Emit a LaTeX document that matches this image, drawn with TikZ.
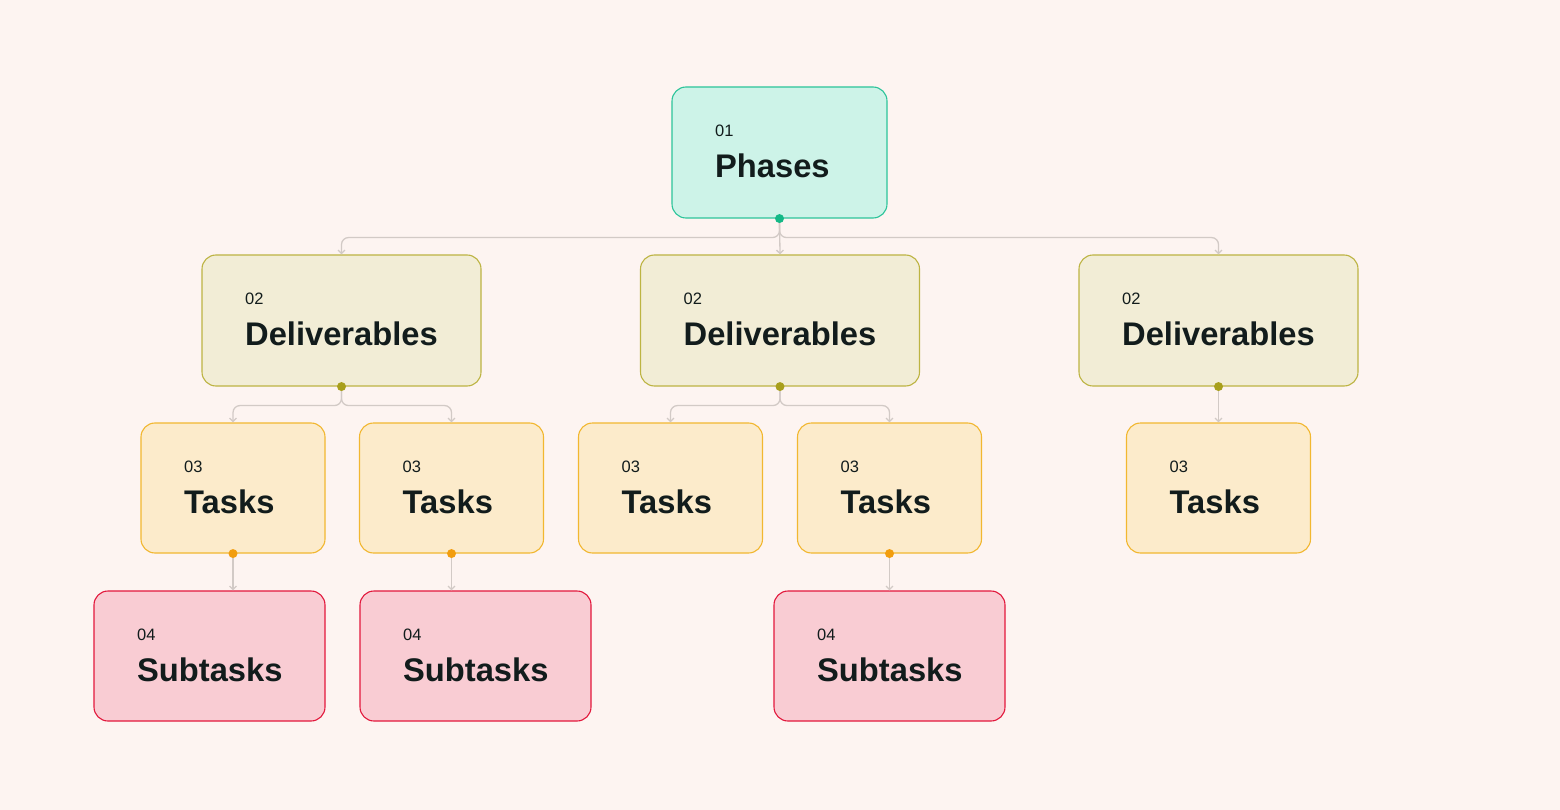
\documentclass[tikz,border=0pt]{standalone}
\usepackage{fontspec}
\setmainfont{Liberation Sans}
\usetikzlibrary{arrows.meta,positioning}
\definecolor{bg}{HTML}{FDF4F1}
\definecolor{phfill}{HTML}{CDF3E8}
\definecolor{phline}{HTML}{2CC49A}
\definecolor{phdot}{HTML}{14B886}
\definecolor{dlfill}{HTML}{F2EDD6}
\definecolor{dlline}{HTML}{BDB443}
\definecolor{dldot}{HTML}{A89F1C}
\definecolor{tkfill}{HTML}{FCEBCB}
\definecolor{tkline}{HTML}{F2B730}
\definecolor{tkdot}{HTML}{F29D0F}
\definecolor{sbfill}{HTML}{F9CCD3}
\definecolor{sbline}{HTML}{E2183C}
\definecolor{txt}{HTML}{121C1C}
\definecolor{conn}{HTML}{D2CAC6}
\tikzset{
  box/.style={draw, rounded corners=14pt, line width=1.1pt, inner sep=0pt},
  phasebox/.style={box, fill=phfill, draw=phline, minimum width=215pt, minimum height=131pt},
  delivbox/.style={box, fill=dlfill, draw=dlline, minimum width=279pt, minimum height=131pt},
  taskbox/.style={box, fill=tkfill, draw=tkline, minimum width=184pt, minimum height=130pt},
  subbox/.style={box, fill=sbfill, draw=sbline, minimum width=231pt, minimum height=130pt},
  numtxt/.style={anchor=base west, inner sep=0pt, text=txt, font=\fontsize{16.5}{18}\selectfont},
  bigtxt/.style={anchor=base west, inner sep=0pt, text=txt, font=\fontsize{32.7}{36}\selectfont\bfseries},
  link/.style={draw=conn, line width=1.3pt, rounded corners=7pt, -{Straight Barb[length=3.5pt,width=7pt]}},
}
\newcommand{\boxtext}[3]{%
  \node[numtxt] (#1n) at ([xshift=43.5pt,yshift=-50pt]#1.north west) {#2};
  \node[bigtxt] (#1t) at ([xshift=43.5pt,yshift=-91pt]#1.north west) {#3};
}
\begin{document}
\begin{tikzpicture}[x=1pt,y=-1pt]
\fill[bg] (0,0) rectangle (1560,810);
\useasboundingbox (0,0) rectangle (1560,810);
% boxes
\node[phasebox] (p) at (779.5,152.5) {};
\node[delivbox] (d1) at (341.5,320.5) {};
\node[delivbox] (d2) at (780,320.5) {};
\node[delivbox] (d3) at (1218.5,320.5) {};
\node[taskbox] (t1) at (233,488) {};
\node[taskbox] (t2) at (451.5,488) {};
\node[taskbox] (t3) at (670.5,488) {};
\node[taskbox] (t4) at (889.5,488) {};
\node[taskbox] (t5) at (1218.5,488) {};
\node[subbox] (s1) at (209.5,656) {};
\node[subbox] (s2) at (475.5,656) {};
\node[subbox] (s3) at (889.5,656) {};
% texts
\boxtext{p}{01}{Phases}
\boxtext{d1}{02}{Deliverables}
\boxtext{d2}{02}{Deliverables}
\boxtext{d3}{02}{Deliverables}
\boxtext{t1}{03}{Tasks}
\boxtext{t2}{03}{Tasks}
\boxtext{t3}{03}{Tasks}
\boxtext{t4}{03}{Tasks}
\boxtext{t5}{03}{Tasks}
\boxtext{s1}{04}{Subtasks}
\boxtext{s2}{04}{Subtasks}
\boxtext{s3}{04}{Subtasks}
% connectors
\coordinate (pj) at ([yshift=-19pt]p.south);
\draw[link] (p.south) -- (pj) -| (d1.north);
\draw[link] (p.south) -- (pj) -| (d3.north);
\draw[link] (p.south) -- (d2.north);
\coordinate (d1j) at ([yshift=-19pt]d1.south);
\draw[link] (d1.south) -- (d1j) -| (t1.north);
\draw[link] (d1.south) -- (d1j) -| (t2.north);
\coordinate (d2j) at ([yshift=-19pt]d2.south);
\draw[link] (d2.south) -- (d2j) -| (t3.north);
\draw[link] (d2.south) -- (d2j) -| (t4.north);
\draw[link] (d3.south) -- (t5.north);
\coordinate (s1top) at (t1.south |- s1.north);
\coordinate (s2top) at (t2.south |- s2.north);
\draw[link] (t1.south) -- (s1top);
\draw[link] (t2.south) -- (s2top);
\draw[link] (t4.south) -- (s3.north);
% dots
\fill[phdot] (p.south) circle (4.5pt);
\fill[dldot] (d1.south) circle (4.5pt);
\fill[dldot] (d2.south) circle (4.5pt);
\fill[dldot] (d3.south) circle (4.5pt);
\fill[tkdot] (t1.south) circle (4.5pt);
\fill[tkdot] (t2.south) circle (4.5pt);
\fill[tkdot] (t4.south) circle (4.5pt);
\end{tikzpicture}
\end{document}
